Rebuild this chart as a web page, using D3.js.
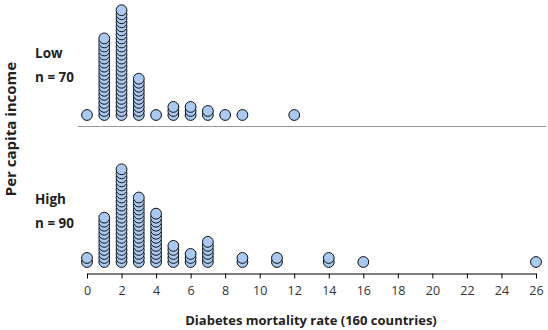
<!DOCTYPE html>
<html><head><meta charset="utf-8">
<script src="https://cdn.jsdelivr.net/npm/d3@7"></script>
<style>body{margin:0;background:#fff}svg{display:block}text{font-family:"Open Sans",sans-serif}</style>
</head><body>
<script>
const groups = ["Low", "High"];
const groupN = [70, 90];
const lowValues  = [0, 1, 2, 3, 4, 5, 6, 7, 8, 9, 12];
const lowCounts  = [1, 20, 27, 10, 1, 3, 3, 2, 1, 1, 1];
const highValues = [0, 1, 2, 3, 4, 5, 6, 7, 9, 11, 14, 16, 26];
const highCounts = [2, 12, 24, 17, 13, 5, 3, 6, 2, 2, 2, 1, 1];
const xTicks = d3.range(0, 27, 2);

const W = 548, H = 330;
const svg = d3.select("body").append("svg").attr("width", W).attr("height", H);
const x = d3.scaleLinear().domain([0, 26]).range([87, 536]);
const step = d3.scaleLinear().domain([0, 1]).range([0, 4.03]);
const r = 5.4;
const baselines = [115, 262];

const panels = [
  {vals: lowValues, cnts: lowCounts},
  {vals: highValues, cnts: highCounts}
];

panels.forEach((p, gi) => {
  const pts = [];
  p.vals.forEach((v, i) => {
    for (let k = 0; k < p.cnts[i]; k++) pts.push({v, k});
  });
  pts.sort((a, b) => a.k - b.k);
  svg.append("g").selectAll("circle").data(pts).join("circle")
    .attr("cx", d => x(d.v))
    .attr("cy", d => baselines[gi] - step(d.k))
    .attr("r", r)
    .attr("fill", "#a9c9f2")
    .attr("stroke", "#111")
    .attr("stroke-width", 1);
});

svg.append("line").attr("x1", 78).attr("x2", 546).attr("y1", 126.5).attr("y2", 126.5)
  .attr("stroke", "#999").attr("stroke-width", 1);

const axis = d3.axisBottom(x).tickValues(xTicks).tickSize(5).tickSizeOuter(0).tickPadding(8);
const ag = svg.append("g").attr("transform", "translate(0,273.5)").call(axis);
ag.select(".domain").attr("stroke", "#000");
ag.selectAll(".tick line").attr("stroke", "#000");
ag.selectAll(".tick text").attr("font-size", 12.5).attr("fill", "#333").attr("font-family", '"Open Sans",sans-serif');

svg.append("text").attr("x", 311).attr("y", 325).attr("text-anchor", "middle")
  .attr("font-size", 13).attr("font-weight", "bold").attr("fill", "#222")
  .text("Diabetes mortality rate (160 countries)");

svg.append("text").attr("transform", "translate(16,129) rotate(-90)").attr("text-anchor", "middle")
  .attr("font-size", 15).attr("font-weight", "bold").attr("fill", "#222")
  .text("Per capita income");

const labelY = [58, 204];
groups.forEach((g, i) => {
  svg.append("text").attr("x", 35).attr("y", labelY[i]).attr("font-size", 13.5)
    .attr("font-weight", "bold").attr("fill", "#222").text(g);
  svg.append("text").attr("x", 35).attr("y", labelY[i] + 24).attr("font-size", 13.5)
    .attr("font-weight", "bold").attr("fill", "#222").text("n = " + groupN[i]);
});
</script>
</body></html>
